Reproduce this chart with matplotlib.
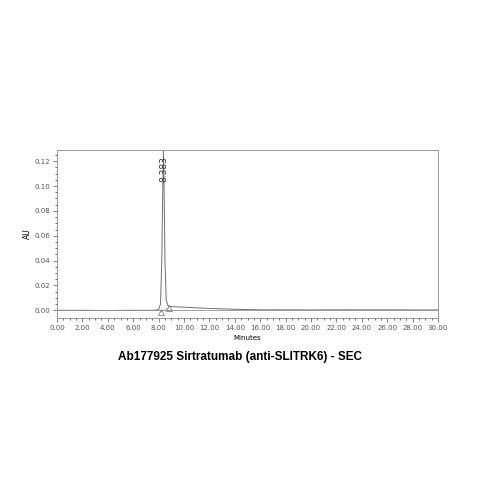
import matplotlib.pyplot as plt

# chromatogram points (minutes, AU)
t = [0.0, 2.0, 4.0, 6.0, 7.6, 8.0, 8.15, 8.25, 8.33, 8.383, 8.43, 8.5, 8.6, 8.75, 9.0, 10.0, 12.0, 14.0, 16.0, 20.0, 24.0, 28.0, 30.0]
au = [0.0, 0.0, -0.0002, 0.0, 0.0, 0.0005, 0.005, 0.04, 0.10, 0.128, 0.10, 0.04, 0.008, 0.0035, 0.003, 0.0025, 0.0015, 0.0008, 0.0004, 0.0003, 0.0004, 0.0003, 0.0003]
peak_rt = 8.383
peak_au = 0.128
baseline_t = [8.17, 8.78]
baseline_au = [-0.0015, 0.0022]

fig = plt.figure(figsize=(4.79, 4.79), dpi=100)
ax = fig.add_axes([57/479, 1-318/479, (438-57)/479, (318-150)/479])
ax.plot(t, au, color='#707070', lw=0.7)
ax.axhline(0, color='#909090', lw=0.6)
ax.plot(baseline_t, baseline_au, color='#a0a0a0', lw=0.5)
for bt, ba in zip(baseline_t, baseline_au):
    ax.plot(bt, ba, marker='^', mfc='none', mec='#808080', ms=5, mew=0.6)
ax.text(peak_rt, peak_au-0.004, f'{peak_rt:.3f}', rotation=90, ha='center', va='top',
        fontsize=6.5, color='#333333')
ax.set_xlim(0, 30)
ax.set_ylim(-0.0062, 0.129)
ax.set_xticks(range(0, 31, 2))
ax.set_xticklabels([f'{v:.2f}' for v in range(0, 31, 2)], fontsize=5)
ax.set_xticks([v/2 for v in range(61)], minor=True)
ax.set_yticks([0, 0.02, 0.04, 0.06, 0.08, 0.10, 0.12])
ax.set_yticklabels(['0.00', '0.02', '0.04', '0.06', '0.08', '0.10', '0.12'], fontsize=5)
ax.set_yticks([v*0.005 for v in range(26)], minor=True)
ax.tick_params(length=3, width=0.5, colors='#555555', pad=2)
ax.tick_params(which='minor', length=1.5, width=0.4)
ax.set_xlabel('Minutes', fontsize=5, labelpad=1)
ax.xaxis.set_label_coords(0.5, -0.1)
ax.set_ylabel('AU', fontsize=5.5, labelpad=2)
for s in ax.spines.values():
    s.set_color('#888888')
    s.set_linewidth(0.6)
fig.text(0.5, 1-357/479, 'Ab177925 Sirtratumab (anti-SLITRK6) - SEC', ha='center', va='center',
         fontsize=8.5, fontweight='bold', family='Liberation Sans')
fig.savefig('out.png', dpi=100)
